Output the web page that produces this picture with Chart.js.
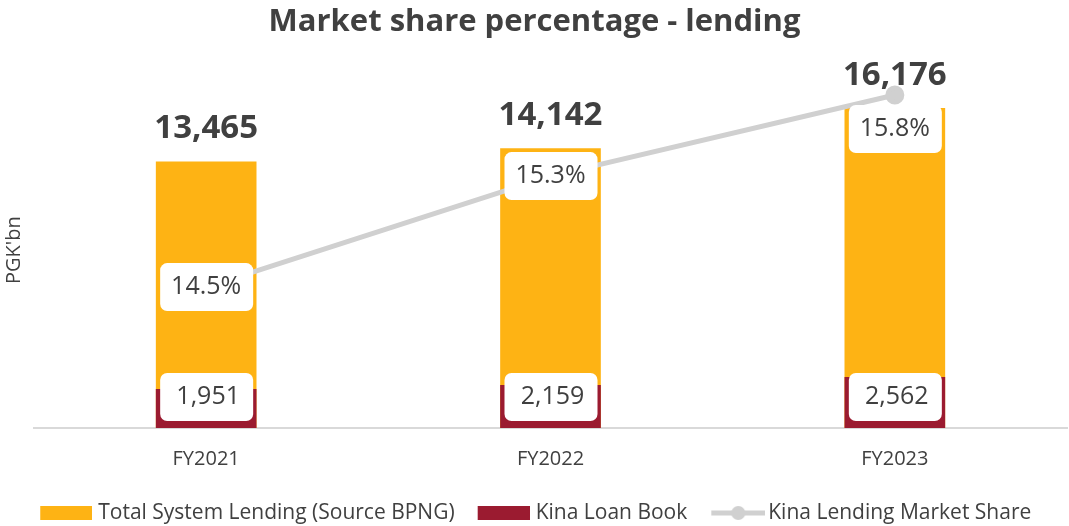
<!DOCTYPE html>
<html>
<head>
<meta charset="utf-8">
<script src="https://cdn.jsdelivr.net/npm/chart.js@4.4.0/dist/chart.umd.min.js"></script>
<style>
  html, body { margin: 0; padding: 0; background: #fff; }
  #wrap { width: 1069px; height: 526px; }
</style>
</head>
<body>
<div id="wrap"><canvas id="chart"></canvas></div>
<script>
const categories = ['FY2021', 'FY2022', 'FY2023'];
const systemLending = [13465, 14142, 16176];
const kinaLoanBook = [1951, 2159, 2562];
const marketShare = [14.49, 15.27, 15.84];

const ORANGE = '#FEB314';
const RED = '#9B1B30';
const GREY = '#D0D0D0';
const TEXT = '#404040';

Chart.defaults.font.family = "'Open Sans', sans-serif";
Chart.defaults.color = TEXT;

// legend swatches as little canvases (transparent margin on the left for spacing)
function swatch(w, h, fn) {
  const c = document.createElement('canvas');
  c.width = w; c.height = h;
  fn(c.getContext('2d'));
  return c;
}
const boxOrange = swatch(59, 14, g => { g.fillStyle = ORANGE; g.fillRect(7, 0, 52, 14); });
const boxRed = swatch(59, 14, g => { g.fillStyle = RED; g.fillRect(7, 0, 52, 14); });
const lineIcon = swatch(65, 16, g => {
  g.strokeStyle = GREY; g.lineWidth = 5;
  g.beginPath(); g.moveTo(11, 8); g.lineTo(65, 8); g.stroke();
  g.fillStyle = GREY; g.beginPath(); g.arc(38, 8, 7, 0, Math.PI * 2); g.fill();
});

function roundBox(ctx, x, y, w, h, r) {
  ctx.beginPath();
  ctx.roundRect(x, y, w, h, r);
  ctx.fillStyle = '#fff';
  ctx.fill();
}

const labelPlugin = {
  id: 'labels',
  afterDatasetsDraw(chart) {
    const ctx = chart.ctx;
    const base = chart.scales.y.getPixelForValue(0);
    ctx.save();
    ctx.textAlign = 'center';
    ctx.textBaseline = 'middle';

    // totals above the orange bars
    chart.getDatasetMeta(0).data.forEach((bar, i) => {
      ctx.font = "bold 33px 'Open Sans'";
      ctx.fillStyle = TEXT;
      ctx.fillText(systemLending[i].toLocaleString('en-US'), bar.x, bar.y - 33);
    });

    // kina loan book boxes near the base
    chart.getDatasetMeta(1).data.forEach((bar, i) => {
      roundBox(ctx, bar.x - 46, base - 55, 93, 48, 7);
      ctx.font = "25px 'Open Sans'";
      ctx.fillStyle = TEXT;
      ctx.fillText(kinaLoanBook[i].toLocaleString('en-US'), bar.x + 2, base - 31);
    });

    // market share boxes on the line (last one sits under its point)
    const pts = chart.getDatasetMeta(2).data;
    pts.forEach((p, i) => {
      let cy = p.y;
      if (i === pts.length - 1) cy = p.y + 34;
      roundBox(ctx, p.x - 46, cy - 24, 93, 48, 7);
      ctx.font = "25px 'Open Sans'";
      ctx.fillStyle = TEXT;
      ctx.fillText(marketShare[i].toFixed(1) + '%', p.x, cy);
    });
    ctx.restore();
  }
};

new Chart(document.getElementById('chart'), {
  type: 'bar',
  data: {
    labels: categories,
    datasets: [
      {
        label: 'Total System Lending (Source BPNG)',
        data: systemLending,
        backgroundColor: ORANGE,
        grouped: false,
        order: 2,
        yAxisID: 'y'
      },
      {
        label: 'Kina Loan Book',
        data: kinaLoanBook,
        backgroundColor: RED,
        grouped: false,
        order: 1,
        yAxisID: 'y'
      },
      {
        type: 'line',
        label: 'Kina Lending Market Share',
        data: marketShare,
        borderColor: GREY,
        backgroundColor: GREY,
        borderWidth: 5,
        pointRadius: 7,
        pointHoverRadius: 7,
        order: 0,
        yAxisID: 'y1'
      }
    ]
  },
  options: {
    responsive: true,
    maintainAspectRatio: false,
    animation: false,
    barThickness: 100,
    layout: { autoPadding: false, padding: { left: 2, right: 2, top: 0, bottom: -7.5 } },
    scales: {
      x: {
        grid: { display: false },
        border: { display: true, color: '#D9D9D9', width: 2 },
        ticks: { font: { size: 20 }, color: TEXT, padding: 11 }
      },
      y: {
        min: 0,
        max: 18000,
        grid: { display: false, drawTicks: false },
        border: { display: false },
        ticks: { display: false },
        title: { display: true, text: "PGK'bn", font: { size: 20 }, color: TEXT, padding: { top: 0, bottom: 8 } }
      },
      y1: {
        display: false,
        min: 13.5,
        max: 16.0
      }
    },
    plugins: {
      tooltip: { enabled: false },
      title: {
        display: true,
        text: 'Market share percentage - lending',
        font: { size: 31, weight: 'bold' },
        color: TEXT,
        padding: { top: 4, bottom: 31 }
      },
      legend: {
        position: 'bottom',
        labels: {
          usePointStyle: true,
          pointStyleWidth: 50,
          font: { size: 21 },
          color: TEXT,
          padding: 20.5,
          generateLabels: () => [
            { text: 'Total System Lending (Source BPNG)', pointStyle: boxOrange, fontColor: TEXT, lineWidth: 0, datasetIndex: 0 },
            { text: 'Kina Loan Book', pointStyle: boxRed, fontColor: TEXT, lineWidth: 0, datasetIndex: 1 },
            { text: 'Kina Lending Market Share', pointStyle: lineIcon, fontColor: TEXT, lineWidth: 0, datasetIndex: 2 }
          ]
        }
      }
    }
  },
  plugins: [labelPlugin]
});
</script>
</body>
</html>
